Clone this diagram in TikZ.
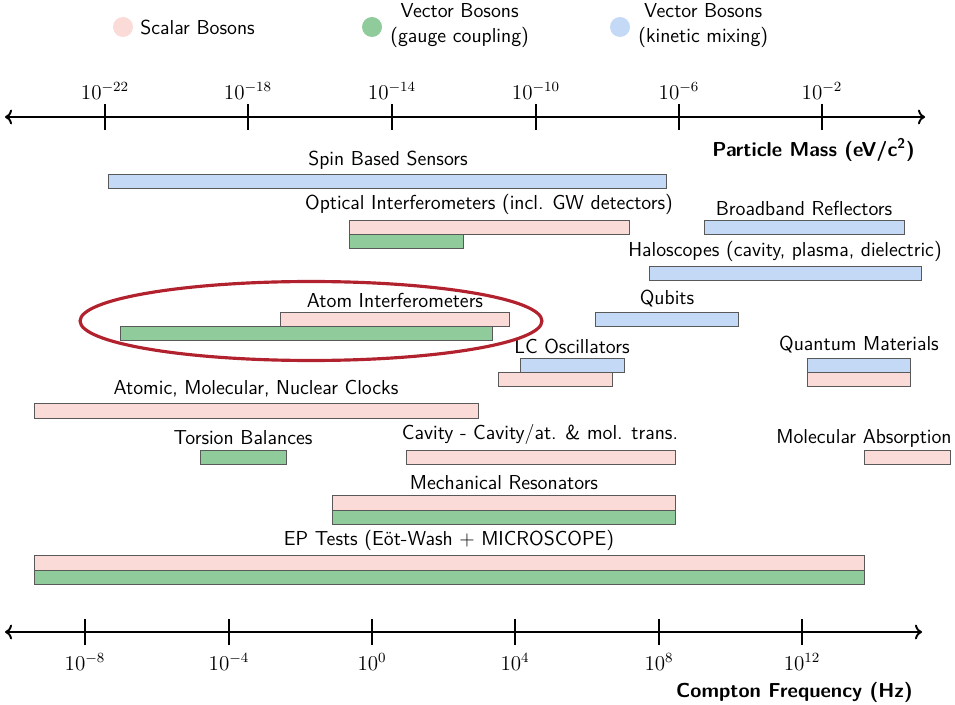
\documentclass[tikz,border=0pt]{standalone}
\usepackage{xcolor}
\usepackage{tikz}
\usetikzlibrary{arrows.meta,positioning}
\definecolor{ScalarPink}{HTML}{FADBD8}
\definecolor{GaugeGreen}{HTML}{8FCB9B}
\definecolor{MixBlue}{HTML}{C4D9F6}
\definecolor{RingRed}{HTML}{B2222E}
\begin{document}
\begin{tikzpicture}[x=0.02cm, y=-0.02cm, every node/.style={font=\fontsize{11.5}{14.2}\selectfont\sffamily}, lbl/.style={inner sep=0pt}, band/.style={draw=black!65, line width=0.5pt}, axis/.style={<->, line width=1.1pt}, tick/.style={line width=1.1pt}, dot/.style={circle, inner sep=0pt, minimum size=0.4cm}]
\useasboundingbox (0,0) rectangle (955,705);
% legend
\node[dot, fill=ScalarPink] (dscalar) at (123,27) {};
\node[lbl, anchor=west] (tscalar) at (140,27) {Scalar Bosons};
\node[dot, fill=GaugeGreen] (dgauge) at (372,27) {};
\node[lbl, anchor=west, align=center] (tgauge) at (390,26) {Vector Bosons\\(gauge coupling)};
\node[dot, fill=MixBlue] (dmix) at (620,27) {};
\node[lbl, anchor=west, align=center] (tmix) at (638,26) {Vector Bosons\\(kinetic mixing)};
% mass axis
\coordinate (massL) at (5,117); \coordinate (massR) at (925,117);
\draw[axis] (massL) -- (massR);
\foreach \x/\e [count=\i] in {105/-22,248/-18,392/-14,536/-10,679/-6,822/-2} {
  \draw[tick] (\x,104) -- (\x,130);
  \node[lbl] (mlab\i) at (\x,91) {$10^{\e}$};
}
\node[lbl, anchor=east, font=\fontsize{11.5}{14.2}\selectfont\sffamily\bfseries] (masstitle) at (915,150) {Particle Mass (eV/c\textsuperscript{2})};
% frequency axis
\coordinate (freqL) at (5,632); \coordinate (freqR) at (922,632);
\draw[axis] (freqL) -- (freqR);
\foreach \x/\e [count=\i] in {85/-8,229/-4,372/0,515/4,659/8,802/12} {
  \draw[tick] (\x,619) -- (\x,645);
  \node[lbl] (flab\i) at (\x,662) {$10^{\e}$};
}
\node[lbl, anchor=east, font=\fontsize{11.5}{14.2}\selectfont\sffamily\bfseries] (freqtitle) at (913,692) {Compton Frequency (Hz)};
% experiments
\node[lbl] (spin) at (388,160) {Spin Based Sensors};
\draw[band, fill=MixBlue] (108,174) rectangle (666,188);
\node[lbl] (optical) at (489,204) {Optical Interferometers (incl. GW detectors)};
\draw[band, fill=ScalarPink] (349,220) rectangle (629,234);
\draw[band, fill=GaugeGreen] (349,234) rectangle (463,248);
\node[lbl] (broad) at (804,208) {Broadband Reflectors};
\draw[band, fill=MixBlue] (704,220) rectangle (904,234);
\node[lbl] (halo) at (785,251) {Haloscopes (cavity, plasma, dielectric)};
\draw[band, fill=MixBlue] (649,266) rectangle (921,280);
\node[lbl] (atom) at (395,300) {Atom Interferometers};
\draw[band, fill=ScalarPink] (280,312) rectangle (509,326);
\draw[band, fill=GaugeGreen] (120,326) rectangle (492,340);
\node[lbl] (qubits) at (667,299) {Qubits};
\draw[band, fill=MixBlue] (595,312) rectangle (738,326);
\node[lbl] (lc) at (572,346) {LC Oscillators};
\draw[band, fill=MixBlue] (520,358) rectangle (624,372);
\draw[band, fill=ScalarPink] (498,372) rectangle (612,386);
\node[lbl] (quantum) at (859,345) {Quantum Materials};
\draw[band, fill=MixBlue] (807,358) rectangle (910,372);
\draw[band, fill=ScalarPink] (807,372) rectangle (910,386);
\node[lbl] (clocks) at (256,389) {Atomic, Molecular, Nuclear Clocks};
\draw[band, fill=ScalarPink] (34,403) rectangle (478,418);
\node[lbl] (torsion) at (243,438) {Torsion Balances};
\draw[band, fill=GaugeGreen] (200,450) rectangle (286,464);
\node[lbl] (cavity) at (540,434) {Cavity - Cavity/at. \& mol. trans.};
\draw[band, fill=ScalarPink] (406,450) rectangle (675,464);
\node[lbl] (molabs) at (864,438) {Molecular Absorption};
\draw[band, fill=ScalarPink] (864,450) rectangle (950,464);
\node[lbl] (mech) at (504,483) {Mechanical Resonators};
\draw[band, fill=ScalarPink] (332,495) rectangle (675,510);
\draw[band, fill=GaugeGreen] (332,510) rectangle (675,524);
\node[lbl] (ep) at (449,540) {EP Tests (Eöt-Wash + MICROSCOPE)};
\draw[band, fill=ScalarPink] (34,555) rectangle (864,570);
\draw[band, fill=GaugeGreen] (34,570) rectangle (864,584);
% highlight
\draw[RingRed, line width=1.8pt] (311,321) ellipse [x radius=4.62cm, y radius=0.79cm];
\end{tikzpicture}
\end{document}
